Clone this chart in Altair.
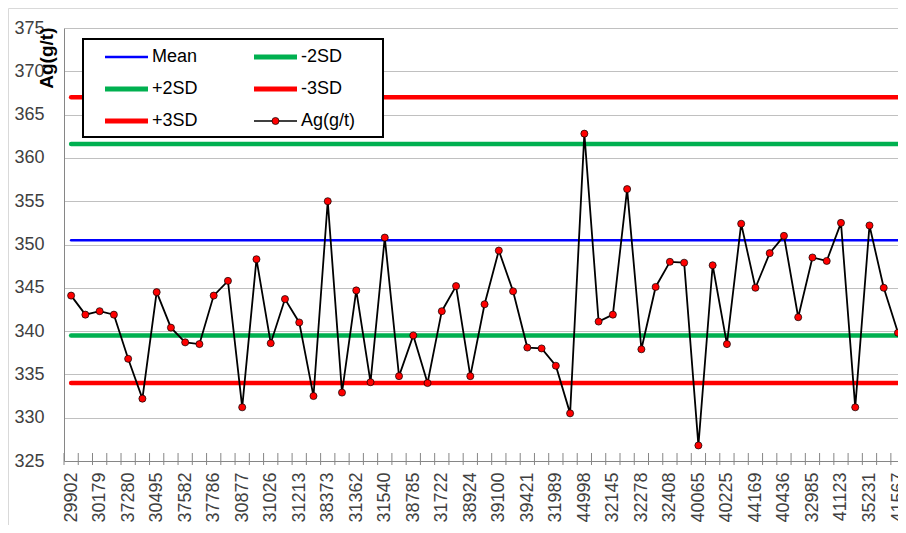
import altair as alt
import pandas as pd

# ---- data ----
tick_labels = ["29902", "30179", "37280", "30495", "37582", "37786", "30877", "31026",
               "31213", "38373", "31362", "31540", "38785", "31722", "38924", "39100",
               "39421", "31989", "44998", "32145", "32278", "32408", "40065", "40225",
               "44169", "40436", "32985", "41123", "35231", "41567"]

ag_values = [344.1, 341.9, 342.3, 341.9, 336.8, 332.2, 344.5, 340.4, 338.7, 338.5,
             344.1, 345.8, 331.2, 348.3, 338.6, 343.7, 341.0, 332.5, 355.0, 332.9,
             344.7, 334.1, 350.8, 334.8, 339.5, 334.0, 342.3, 345.2, 334.8, 343.1,
             349.3, 344.6, 338.1, 338.0, 336.0, 330.5, 362.8, 341.1, 341.9, 356.4,
             337.9, 345.1, 348.0, 347.9, 326.8, 347.6, 338.5, 352.4, 345.0, 349.0,
             351.0, 341.6, 348.5, 348.1, 352.5, 331.2, 352.2, 345.0, 339.8]

ref_names = ["Mean", "+2SD", "+3SD", "-2SD", "-3SD"]
ref_values = [350.5, 361.6, 367.0, 339.5, 334.0]
ref_colors = ["#0000FF", "#00B050", "#FF0000", "#00B050", "#FF0000"]
ref_widths = [2.5, 4.5, 4.5, 4.5, 4.5]

legend_names = ["Mean", "-2SD", "+2SD", "-3SD", "+3SD", "Ag(g/t)"]
legend_colors = ["#0000FF", "#00B050", "#00B050", "#FF0000", "#FF0000", "#000000"]
legend_widths = [2.5, 5, 5, 5, 5, 1.5]

idx = list(range(1, len(ag_values) + 1))
boundaries = [i - 0.5 for i in idx] + [idx[-1] + 0.5]
ag_df = pd.DataFrame({"idx": idx, "value": ag_values})
ref_df = pd.DataFrame({"name": ref_names, "value": ref_values, "color": ref_colors,
                       "sw": ref_widths, "x0": idx[0], "x1": idx[-1]})
tick_df = pd.DataFrame({"b": boundaries})
leg_df = pd.DataFrame({"name": legend_names, "color": legend_colors, "sw": legend_widths,
                       "i": list(range(len(legend_names)))})

FONT = "Liberation Sans"
label_js = "[" + ",".join("'%s'" % s for s in tick_labels) + "]"

W, H = 834, 433
X_MAX = 59.0
Y_MIN, Y_MAX = 325, 375
x_scale = alt.Scale(domain=[0.5, X_MAX], nice=False, zero=False)
y_scale = alt.Scale(domain=[Y_MIN, Y_MAX], nice=False, zero=False)
half_band = W / (X_MAX - 0.5) / 2
px_per_unit = H / (Y_MAX - Y_MIN)

y_axis = alt.Axis(values=list(range(325, 376, 5)), grid=True,
                  gridColor=alt.condition("datum.value === 325", alt.value("#868686"), alt.value("#C0C0C0")),
                  gridWidth=1, ticks=False, tickSize=0, domain=True, domainColor="#868686",
                  labelFont=FONT, labelFontSize=18, labelColor="#404040", labelPadding=20,
                  title="Ag(g/t)", titleFont=FONT, titleFontSize=19, titleFontWeight="bold",
                  titleColor="#000000", titleAngle=270, titleX=-12, titleY=-1,
                  titleAlign="right", titleBaseline="alphabetic")

# labels at every second category centre
x_axis = alt.Axis(orient="bottom", values=boundaries[:-1],
                  labelExpr="((datum.value + 0.5) % 2 === 1) ? " + label_js +
                            "[(datum.value - 0.5) / 2] : ''",
                  labelOffset=half_band, labelAngle=270, labelFont=FONT, labelFontSize=18,
                  labelColor="#404040", labelPadding=11, labelOverlap=False,
                  labelFlush=False, labelBound=False,
                  ticks=False, tickSize=0, domain=False, grid=False, title=None)

frame = alt.Chart(alt.Data(values=[{"a": 1}])).mark_rect(
    fill="transparent", stroke="#D9D9D9", strokeWidth=1
).encode(x=alt.value(-55.5), y=alt.value(-19.5), x2=alt.value(900), y2=alt.value(520))

# category-boundary tick marks crossing the horizontal axis (8 px above, 4 px below)
ticks = alt.Chart(tick_df).transform_calculate(
    t_top=str(Y_MIN) + " + 8 / " + str(px_per_unit),
    t_bot=str(Y_MIN) + " - 4 / " + str(px_per_unit),
).mark_rule(color="#868686", strokeWidth=1).encode(
    x=alt.X("b:Q", scale=x_scale, axis=x_axis),
    y=alt.Y("t_top:Q", scale=y_scale, axis=y_axis),
    y2="t_bot:Q",
)

rules = alt.Chart(ref_df).mark_rule(strokeCap="round").encode(
    x=alt.X("x0:Q", scale=x_scale, axis=x_axis),
    x2="x1:Q",
    y=alt.Y("value:Q", scale=y_scale, axis=y_axis),
    color=alt.Color("color:N", scale=None),
    strokeWidth=alt.StrokeWidth("sw:Q", scale=None),
)

line = alt.Chart(ag_df).mark_line(strokeWidth=1.8, color="#000000").encode(
    x=alt.X("idx:Q", scale=x_scale, axis=x_axis),
    y=alt.Y("value:Q", scale=y_scale, axis=y_axis),
)

points = alt.Chart(ag_df).mark_point(filled=True, fill="#FF0000", stroke="#000000",
                                     strokeWidth=0.7, size=50, opacity=1).encode(
    x=alt.X("idx:Q", scale=x_scale, axis=x_axis),
    y=alt.Y("value:Q", scale=y_scale, axis=y_axis),
)

# ---- legend (drawn as a box with entries laid out in 2 columns x 3 rows) ----
leg_box = alt.Chart(alt.Data(values=[{"a": 1}])).mark_rect(
    fill="#FFFFFF", stroke="#000000", strokeWidth=2
).encode(x=alt.value(19), y=alt.value(11), x2=alt.value(319), y2=alt.value(109))

leg_base = alt.Chart(leg_df).transform_calculate(
    col="datum.i % 2", row="floor(datum.i / 2)"
).transform_calculate(
    sx="41 + datum.col * 149", sx2="84 + datum.col * 149",
    sy="29 + datum.row * 32", tx="88 + datum.col * 149", cx="62.5 + datum.col * 149"
)

leg_lines = leg_base.mark_rule(strokeCap="butt").encode(
    x=alt.X("sx:Q", scale=None, axis=None), x2="sx2:Q",
    y=alt.Y("sy:Q", scale=None, axis=None),
    color=alt.Color("color:N", scale=None),
    strokeWidth=alt.StrokeWidth("sw:Q", scale=None),
)
leg_dot = leg_base.transform_filter("datum.name === 'Ag(g/t)'").mark_point(
    filled=True, fill="#FF0000", stroke="#000000", strokeWidth=0.7, size=50, opacity=1
).encode(x=alt.X("cx:Q", scale=None, axis=None), y=alt.Y("sy:Q", scale=None, axis=None))
leg_text = leg_base.mark_text(align="left", baseline="middle", font=FONT, fontSize=18,
                              color="#000000").encode(
    x=alt.X("tx:Q", scale=None, axis=None), y=alt.Y("sy:Q", scale=None, axis=None),
    text="name:N",
)

chart = alt.layer(frame, ticks, rules, line, points, leg_box, leg_lines, leg_dot, leg_text).properties(
    width=W, height=H,
    autosize=alt.AutoSizeParams(type="none"),
    padding={"left": 56, "top": 20, "right": 0, "bottom": 64},
).configure_view(strokeWidth=0)

chart.save("out.html", embed_options={"renderer": "svg", "actions": False})
